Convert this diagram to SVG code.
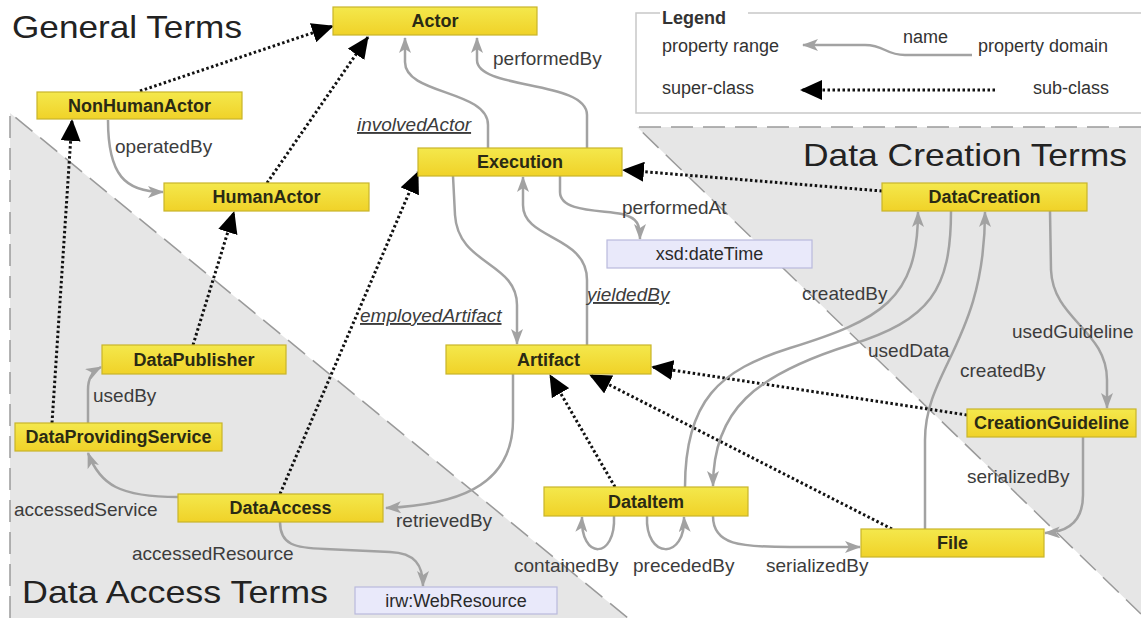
<svg xmlns="http://www.w3.org/2000/svg" width="1141" height="618" viewBox="0 0 1141 618">
<defs>
<linearGradient id="yel" x1="0" y1="0" x2="0" y2="1">
<stop offset="0" stop-color="#f4e84c"/>
<stop offset="1" stop-color="#f0d228"/>
</linearGradient>
<marker id="tri" viewBox="0 0 22 20" refX="21" refY="10" markerWidth="22" markerHeight="20" markerUnits="userSpaceOnUse" orient="auto">
<path d="M0,0 L22,10 L0,20 z" fill="#000"/>
</marker>
<marker id="garr" viewBox="0 0 16 12" refX="15" refY="6" markerWidth="16" markerHeight="12" markerUnits="userSpaceOnUse" orient="auto">
<path d="M0,0 L16,6 L0,12 L4,6 z" fill="#a2a2a2"/>
</marker>
<style>
.region{fill:#e6e6e6;stroke:none}
.rb{fill:none;stroke:#9a9a9a;stroke-width:1.5;stroke-dasharray:22 10}
.node rect{fill:url(#yel);stroke:#c8b52a;stroke-width:1.2}
.lit rect{fill:#e9e9fa;stroke:#b9b9dd;stroke-width:1.2}
.node text{font-family:"Liberation Sans",Arial,sans-serif;font-size:18px;font-weight:bold;fill:#2a2a14;text-anchor:middle}
.lit text{font-family:"Liberation Sans",Arial,sans-serif;font-size:18px;fill:#2a2a2a;text-anchor:middle}
.sub{fill:none;stroke:#111;stroke-width:3;stroke-dasharray:2.5 2.5;marker-end:url(#tri)}
.prop{fill:none;stroke:#a2a2a2;stroke-width:2.5;marker-end:url(#garr)}
.lbl{font-family:"Liberation Sans",Arial,sans-serif;font-size:19px;fill:#3c3c3c}
.it{font-style:italic;text-decoration:underline}
.title{font-family:"Liberation Sans",Arial,sans-serif;font-size:32px;fill:#222}
.leg{font-family:"Liberation Sans",Arial,sans-serif;font-size:18px;fill:#333}
</style>
</defs>
<rect width="1141" height="618" fill="#fff"/>
<g id="regions">
<polygon class="region" points="10,113 628,618 10,618"/>
<polygon class="region" points="637,127 1141,127 1141,614"/>
<path class="rb" d="M10,618 L10,113 L628,618"/>
<path class="rb" d="M1141,127 L637,127 L1141,614"/>
</g>
<g id="titles">
<text class="title" x="12" y="38" textLength="230" lengthAdjust="spacingAndGlyphs">General Terms</text>
<text class="title" x="803" y="166" textLength="324" lengthAdjust="spacingAndGlyphs">Data Creation Terms</text>
<text class="title" x="22" y="603" textLength="306" lengthAdjust="spacingAndGlyphs">Data Access Terms</text>
</g>
<g id="legend">
<path d="M660,13 L636,13 L636,113 L1141,113 M748,13 L1141,13" fill="none" stroke="#c8c8c8" stroke-width="1.5"/>
<text class="leg" x="662" y="24" font-weight="bold" font-size="16">Legend</text>
<text class="leg" x="662" y="52">property range</text>
<text class="leg" x="903" y="43">name</text>
<text class="leg" x="978" y="52">property domain</text>
<path class="prop" d="M972,55 L905,55 C885,55 885,45 865,45 L803,45"/>
<text class="leg" x="662" y="94">super-class</text>
<path class="sub" d="M995,90 L801,90"/>
<text class="leg" x="1033" y="94">sub-class</text>
</g>
<g id="connectors">
<path class="sub" d="M140,91 L333,26"/>
<path class="sub" d="M267,183 L368,37"/>
<path class="sub" d="M52,423 L72,120"/>
<path class="sub" d="M193,345 L234,212"/>
<path class="sub" d="M280,494 L418,172"/>
<path class="sub" d="M882,191 L623,170"/>
<path class="sub" d="M615,487 L550,375"/>
<path class="sub" d="M892,529 L590,375"/>
<path class="sub" d="M967,415 L652,367"/>
<path class="prop" d="M108,120 C108,175 125,192 163,192"/>
<path class="prop" d="M488,148 L488,125 C488,90 405,95 405,62 L405,38"/>
<path class="prop" d="M587,148 L587,115 C587,80 477,90 477,60 L477,38"/>
<path class="prop" d="M560,176 L560,192 C560,212 600,210 622,214 C638,218 640,225 640,239"/>
<path class="prop" d="M453,176 L455,215 C458,265 517,262 517,305 L517,344"/>
<path class="prop" d="M587,345 L587,280 C587,235 523,240 523,205 L523,177"/>
<path class="prop" d="M513,374 L513,420 C513,490 450,505 386,508"/>
<path class="prop" d="M178,497 C120,497 100,485 88,453"/>
<path class="prop" d="M280,522 C280,545 295,548 325,549 L390,552 C415,553 423,565 423,586"/>
<path class="prop" d="M88,423 L88,390 C88,378 92,372 101,367"/>
<path class="prop" d="M685,487 C685,400 720,370 790,348 C880,320 918,300 918,212"/>
<path class="prop" d="M951,211 C951,290 930,320 850,345 C755,375 713,410 713,486"/>
<path class="prop" d="M925,529 L925,440 C925,370 985,340 985,212"/>
<path class="prop" d="M1050,211 L1051,270 C1053,320 1107,330 1107,380 L1107,408"/>
<path class="prop" d="M1083,437 L1083,495 C1083,520 1070,532 1045,533"/>
<path class="prop" d="M713,516 C713,545 740,547 790,547 L860,547"/>
<path class="prop" d="M614,516 C616,560 580,560 582,517"/>
<path class="prop" d="M647,516 C645,560 686,560 684,517"/>
</g>
<g id="labels">
<text class="lbl" x="115" y="153">operatedBy</text>
<text class="lbl it" x="357" y="131">involvedActor</text>
<text class="lbl" x="493" y="65">performedBy</text>
<text class="lbl" x="622" y="214">performedAt</text>
<text class="lbl it" x="360" y="322">employedArtifact</text>
<text class="lbl it" x="587" y="301">yieldedBy</text>
<text class="lbl" x="396" y="527">retrievedBy</text>
<text class="lbl" x="14" y="516">accessedService</text>
<text class="lbl" x="132" y="560">accessedResource</text>
<text class="lbl" x="93" y="402">usedBy</text>
<text class="lbl" x="802" y="300">createdBy</text>
<text class="lbl" x="868" y="357">usedData</text>
<text class="lbl" x="960" y="377">createdBy</text>
<text class="lbl" x="1012" y="338">usedGuideline</text>
<text class="lbl" x="967" y="483">serializedBy</text>
<text class="lbl" x="766" y="572">serializedBy</text>
<text class="lbl" x="514" y="572">containedBy</text>
<text class="lbl" x="633" y="572">precededBy</text>
</g>
<g id="Actor" class="node"><rect x="333" y="7" width="204" height="28"/><text x="435" y="27">Actor</text></g>
<g id="NonHumanActor" class="node"><rect x="37" y="92" width="205" height="27"/><text x="139.5" y="112">NonHumanActor</text></g>
<g id="HumanActor" class="node"><rect x="164" y="183" width="205" height="28"/><text x="266.5" y="203">HumanActor</text></g>
<g id="Execution" class="node"><rect x="418" y="148" width="204" height="28"/><text x="520" y="168">Execution</text></g>
<g id="DataCreation" class="node"><rect x="882" y="183" width="205" height="28"/><text x="984.5" y="203">DataCreation</text></g>
<g id="xsd_dateTime" class="lit"><rect x="607" y="240" width="205" height="28"/><text x="709.5" y="260">xsd:dateTime</text></g>
<g id="DataPublisher" class="node"><rect x="102" y="345" width="184" height="29"/><text x="194" y="366">DataPublisher</text></g>
<g id="Artifact" class="node"><rect x="446" y="345" width="205" height="29"/><text x="548.5" y="366">Artifact</text></g>
<g id="DataProvidingService" class="node"><rect x="15" y="423" width="207" height="28"/><text x="118.5" y="443">DataProvidingService</text></g>
<g id="CreationGuideline" class="node"><rect x="967" y="409" width="169" height="28"/><text x="1051.5" y="429">CreationGuideline</text></g>
<g id="DataAccess" class="node"><rect x="178" y="494" width="205" height="28"/><text x="280.5" y="514">DataAccess</text></g>
<g id="DataItem" class="node"><rect x="544" y="487" width="204" height="29"/><text x="646" y="508">DataItem</text></g>
<g id="File" class="node"><rect x="861" y="529" width="183" height="28"/><text x="952.5" y="549">File</text></g>
<g id="irw_WebResource" class="lit"><rect x="355" y="587" width="202" height="27"/><text x="456" y="607">irw:WebResource</text></g>
</svg>
